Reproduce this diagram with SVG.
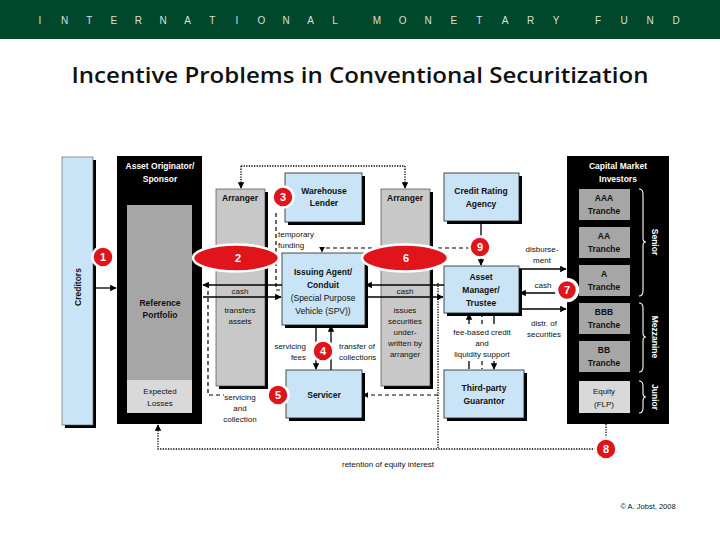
<svg xmlns="http://www.w3.org/2000/svg" width="720" height="540" viewBox="0 0 720 540">
<defs>
<marker id="ah" viewBox="0 0 10 10" refX="9" refY="5" markerWidth="5" markerHeight="5" orient="auto"><path d="M0,0 L10,5 L0,10 Z" fill="#000"/></marker>
<style>
text{font-family:"Liberation Sans",Arial,sans-serif;font-size:8px;text-anchor:middle;fill:#111}
.b{font-weight:bold;font-size:8.5px}
.w{fill:#fff}
.st{text-anchor:start}
.en{text-anchor:end}
.hd{font-size:10px;fill:#d8e0d8}
.blue{fill:#c9e4f7;stroke:#222;stroke-width:0.8}
.gray{fill:#c8c8c8;stroke:#333;stroke-width:0.6}
.tr{fill:#a6a6a6}
.eq{fill:#d9d9d9}
.sh{fill:#000}
.ln{fill:none;stroke:#000;stroke-width:1.3}
.dash{fill:none;stroke:#000;stroke-width:1.2;stroke-dasharray:4,3}
.dot{fill:none;stroke:#000;stroke-width:1.3;stroke-dasharray:1.3,1.3}
.bd{fill:#e0141b;stroke:#fff;stroke-width:2.5}
.bt{fill:#fff;font-weight:bold;font-size:11px}
.brace{fill:none;stroke:#fff;stroke-width:1.1}
</style>
</defs>
<rect width="720" height="540" fill="#fff"/>
<g id="header">
<rect x="0" y="0" width="720" height="39" fill="#00472b"/>
<text class="hd" x="40 64.6 89.2 113.8 138.4 163 187.6 212.2 236.8 261.4 286 310.6 335" y="24">INTERNATIONAL</text>
<text class="hd" x="377 402.6 428.2 453.8 479.4 505 530.6 556" y="24">MONETARY</text>
<text class="hd" x="598 624 650 676" y="24">FUND</text>
</g>
<text x="360" y="83" style="font-family:'Open Sans','Liberation Sans',sans-serif;font-size:22px;font-weight:600" textLength="577" lengthAdjust="spacingAndGlyphs">Incentive Problems in Conventional Securitization</text>

<g id="creditors">
<rect class="sh" x="65" y="160" width="31" height="268"/>
<rect x="62" y="157" width="31" height="268" fill="#c9e4f7" stroke="#555" stroke-width="0.6"/>
<text class="b" transform="translate(81,287) rotate(-90)">Creditors</text>
</g>

<g id="originator">
<rect class="sh" x="117" y="156" width="85" height="268"/>
<text class="b w" x="160" y="169">Asset Originator/</text>
<text class="b w" x="160" y="182">Sponsor</text>
<rect class="tr" x="127" y="205" width="65" height="175"/>
<rect class="eq" x="127" y="380" width="65" height="33"/>
<text class="b" x="160" y="306">Reference</text>
<text class="b" x="160" y="318">Portfolio</text>
<text x="160" y="394">Expected</text>
<text x="160" y="406">Losses</text>
</g>

<g id="arranger1">
<rect class="sh" x="219" y="192" width="49" height="197"/>
<rect class="gray" x="216" y="189" width="49" height="197"/>
<text class="b" x="240" y="201">Arranger</text>
</g>
<g id="arranger2">
<rect class="sh" x="384" y="192" width="49" height="197"/>
<rect class="gray" x="381" y="189" width="49" height="197"/>
<text class="b" x="405" y="201">Arranger</text>
</g>

<g id="warehouse">
<rect class="sh" x="288" y="176" width="77" height="49"/>
<rect class="blue" x="285" y="173" width="77" height="49"/>
<text class="b" x="324" y="194">Warehouse</text>
<text class="b" x="324" y="206">Lender</text>
</g>

<g id="spv">
<rect class="sh" x="285" y="256" width="83" height="72"/>
<rect class="blue" x="282" y="253" width="83" height="72"/>
<text class="b" x="323" y="275">Issuing Agent/</text>
<text class="b" x="323" y="288">Conduit</text>
<text x="323" y="301" style="font-size:8.5px">(Special Purpose</text>
<text x="323" y="314" style="font-size:8.5px">Vehicle (SPV))</text>
</g>

<g id="servicer">
<rect class="sh" x="289" y="373" width="76" height="48"/>
<rect class="blue" x="286" y="370" width="76" height="48"/>
<text class="b" x="324" y="398">Servicer</text>
</g>

<g id="rating">
<rect class="sh" x="447" y="176" width="75" height="48"/>
<rect class="blue" x="444" y="173" width="75" height="48"/>
<text class="b" x="481" y="194">Credit Rating</text>
<text class="b" x="481" y="207">Agency</text>
</g>

<g id="manager">
<rect class="sh" x="447" y="269" width="75" height="47"/>
<rect class="blue" x="444" y="266" width="75" height="47"/>
<text class="b" x="481" y="280">Asset</text>
<text class="b" x="481" y="293">Manager/</text>
<text class="b" x="481" y="306">Trustee</text>
</g>

<g id="guarantor">
<rect class="sh" x="447" y="373" width="80" height="48"/>
<rect class="blue" x="444" y="370" width="80" height="48"/>
<text class="b" x="484" y="391">Third-party</text>
<text class="b" x="484" y="404">Guarantor</text>
</g>

<g id="investors">
<rect class="sh" x="567" y="156" width="102" height="268"/>
<text class="b w" x="618" y="169">Capital Market</text>
<text class="b w" x="618" y="182">Investors</text>
<rect class="tr" x="579" y="189" width="51" height="31"/>
<text class="b" x="604" y="201">AAA</text><text class="b" x="604" y="214">Tranche</text>
<rect class="tr" x="579" y="227" width="51" height="31"/>
<text class="b" x="604" y="239">AA</text><text class="b" x="604" y="252">Tranche</text>
<rect class="tr" x="579" y="265" width="51" height="31"/>
<text class="b" x="604" y="277">A</text><text class="b" x="604" y="290">Tranche</text>
<rect class="tr" x="579" y="303" width="51" height="31"/>
<text class="b" x="604" y="315">BBB</text><text class="b" x="604" y="328">Tranche</text>
<rect class="tr" x="579" y="341" width="51" height="31"/>
<text class="b" x="604" y="353">BB</text><text class="b" x="604" y="366">Tranche</text>
<rect class="eq" x="579" y="381" width="51" height="32"/>
<text x="604" y="394">Equity</text><text x="604" y="407">(FLP)</text>
<path class="brace" d="M639,189 Q643,189 643,194 L643,238 Q643,242 646,242 Q643,242 643,246 L643,291 Q643,296 639,296"/>
<path class="brace" d="M639,303 Q643,303 643,308 L643,333 Q643,337 646,337 Q643,337 643,341 L643,367 Q643,372 639,372"/>
<path class="brace" d="M639,381 Q643,381 643,386 L643,393 Q643,397 646,397 Q643,397 643,401 L643,408 Q643,413 639,413"/>
<text class="b w" transform="translate(652,242) rotate(90)">Senior</text>
<text class="b w" transform="translate(652,337) rotate(90)">Mezzanine</text>
<text class="b w" transform="translate(652,397) rotate(90)">Junior</text>
</g>

<g id="connectors">
<path class="ln" d="M96,288 H116" marker-end="url(#ah)"/>
<path class="dot" d="M241,166 H405"/>
<path class="dot" d="M241,166 V188" marker-end="url(#ah)"/>
<path class="dot" d="M405,166 V188" marker-end="url(#ah)"/>
<path class="ln" d="M282,285 H203" marker-end="url(#ah)"/>
<path class="ln" d="M203,297 H281" marker-end="url(#ah)"/>
<path class="dash" d="M276,213 V290 H281"/>
<path class="dash" d="M470,248 H322 V252" marker-end="url(#ah)"/>
<path class="ln" d="M444,285 H366" marker-end="url(#ah)"/>
<path class="ln" d="M365,297 H443" marker-end="url(#ah)"/>
<path class="ln" d="M316,325 V369" marker-end="url(#ah)"/>
<path class="ln" d="M331,370 V326" marker-end="url(#ah)"/>
<path class="dash" d="M208,291 V395 H224"/>
<path class="dash" d="M438,395 H363" marker-end="url(#ah)"/>
<path class="dot" d="M438,283 V449"/>
<path class="dot" d="M606,449 H158 V425" marker-end="url(#ah)"/>
<path class="dot" d="M606,424 V449"/>
<path class="ln" d="M481,221 V240"/>
<path class="ln" d="M481,252 V265" marker-end="url(#ah)"/>
<path class="ln" d="M519,269 H566" marker-end="url(#ah)"/>
<path class="ln" d="M556,293 H520" marker-end="url(#ah)"/>
<path class="ln" d="M519,309 H566" marker-end="url(#ah)"/>
<path class="ln" d="M469,324 V314" marker-end="url(#ah)"/>
<path class="ln" d="M469,361 V369"/>
<path class="dash" d="M482,313 V324"/>
<path class="dash" d="M482,361 V369"/>
<path class="ln" d="M494,313 V324"/>
<path class="ln" d="M494,361 V369" marker-end="url(#ah)"/>
</g>

<g id="labels">
<text class="st" x="278" y="237">temporary</text>
<text class="st" x="278" y="248">funding</text>
<text x="240" y="294">cash</text>
<text x="240" y="313">transfers</text>
<text x="240" y="324">assets</text>
<text x="405" y="294">cash</text>
<text x="405" y="313">issues</text>
<text x="405" y="324">securities</text>
<text x="405" y="335">under-</text>
<text x="405" y="346">written by</text>
<text x="405" y="357">arranger</text>
<text class="en" x="306" y="349">servicing</text>
<text class="en" x="306" y="360">fees</text>
<text class="st" x="339" y="349">transfer of</text>
<text class="st" x="339" y="360">collections</text>
<text x="240" y="400">servicing</text>
<text x="240" y="411">and</text>
<text x="240" y="422">collection</text>
<text x="542" y="252">disburse-</text>
<text x="542" y="263">ment</text>
<text x="543" y="288">cash</text>
<text x="544" y="326">distr. of</text>
<text x="544" y="337">securities</text>
<text x="482" y="335">fee-based credit</text>
<text x="482" y="346">and</text>
<text x="482" y="357">liquidity support</text>
<text x="388" y="467">retention of equity interest</text>
<text x="648" y="509" style="font-size:7.5px">© A. Jobst, 2008</text>
</g>

<g id="badges">
<g id="b1"><circle class="bd" cx="103" cy="257" r="10.5"/><text class="bt" x="103" y="261">1</text></g>
<g id="b2"><ellipse class="bd" cx="236" cy="258" rx="43" ry="13.5"/><text class="bt" x="238" y="262">2</text></g>
<g id="b3"><circle class="bd" cx="283" cy="197" r="10.5"/><text class="bt" x="283" y="201">3</text></g>
<g id="b4"><circle class="bd" cx="323" cy="351" r="10.5"/><text class="bt" x="323" y="355">4</text></g>
<g id="b5"><circle class="bd" cx="278" cy="395" r="10.5"/><text class="bt" x="278" y="399">5</text></g>
<g id="b6"><ellipse class="bd" cx="405" cy="258" rx="43" ry="13.5"/><text class="bt" x="406" y="262">6</text></g>
<g id="b7"><circle class="bd" cx="567" cy="290" r="10.5" style="stroke-width:3.5"/><text class="bt" x="567" y="294">7</text></g>
<g id="b8"><circle class="bd" cx="606" cy="449" r="10.5"/><text class="bt" x="606" y="453">8</text></g>
<g id="b9"><circle class="bd" cx="480" cy="247" r="10.5"/><text class="bt" x="480" y="251">9</text></g>
</g>
</svg>
